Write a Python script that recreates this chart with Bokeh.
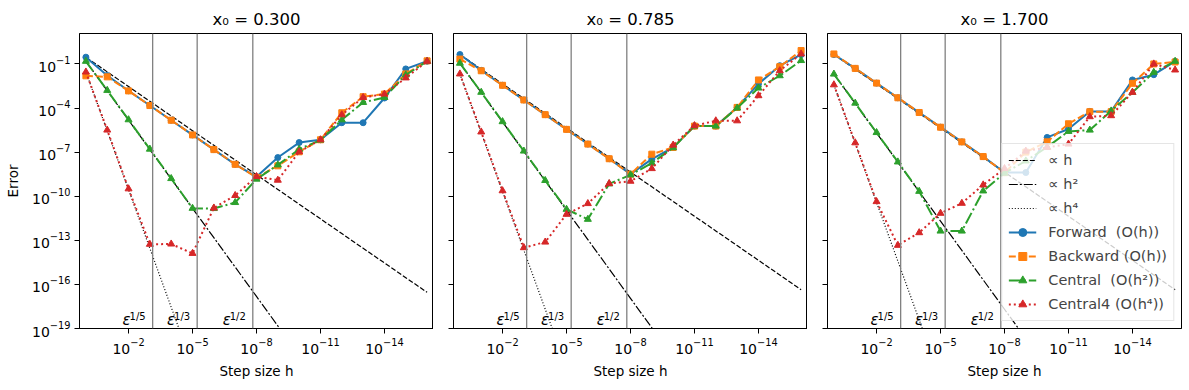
from bokeh.plotting import figure
from bokeh.layouts import row
from bokeh.models import (Range1d, FixedTicker, Legend, LegendItem, Span, LogTickFormatter,
                          CustomJSTickFormatter)
from bokeh.embed import file_html
from bokeh.resources import INLINE
from bokeh.core.properties import value

# ---------------- data ----------------
h = [1e0, 1e-1, 1e-2, 1e-3, 1e-4, 1e-5, 1e-6, 1e-7, 1e-8,
     1e-9, 1e-10, 1e-11, 1e-12, 1e-13, 1e-14, 1e-15, 1e-16]

titles = ["x\u2080 = 0.300", "x\u2080 = 0.785", "x\u2080 = 1.700"]

fwd_1 = [2.88e-1, 1.637e-2, 1.494e-3, 1.479e-4, 1.48e-5, 1.48e-6, 1.48e-7, 1.48e-8, 2.09e-9,
         4.27e-8, 4.47e-7, 6.92e-7, 1.0e-5, 1.0e-5, 4.79e-4, 4.57e-2, 1.51e-1]
bwd_1 = [1.55e-2, 1.32e-2, 1.46e-3, 1.477e-4, 1.478e-5, 1.478e-6, 1.478e-7, 1.478e-8, 1.91e-9,
         1.17e-8, 1.05e-7, 6.92e-7, 4.79e-5, 5.89e-4, 8.91e-4, 2.09e-2, 1.62e-1]
cen_1 = [1.51e-1, 1.59e-3, 1.59e-5, 1.59e-7, 1.59e-9, 1.51e-11, 1.45e-11, 3.72e-11, 1.45e-9,
         1.35e-8, 1.58e-7, 6.61e-7, 1.58e-5, 2.40e-4, 5.25e-4, 1.78e-2, 1.51e-1]
c4_1 = [2.82e-2, 3.18e-6, 3.18e-10, 5.37e-14, 5.6e-14, 1.29e-14, 1.58e-11, 1.12e-10, 2.19e-9,
        1.23e-9, 1.05e-7, 6.92e-7, 3.47e-5, 5.25e-4, 8.91e-4, 1.12e-2, 1.51e-1]

fwd_2 = [4.37e-1, 3.66e-2, 3.55e-3, 3.54e-4, 3.54e-5, 3.54e-6, 3.54e-7, 3.54e-8, 3.16e-9,
         3.31e-8, 2.09e-7, 5.89e-6, 5.89e-6, 1.10e-4, 4.37e-3, 7.59e-2, 4.27e-1]
bwd_2 = [2.14e-1, 3.42e-2, 3.52e-3, 3.53e-4, 3.53e-5, 3.53e-6, 3.53e-7, 3.53e-8, 3.16e-9,
         7.24e-8, 2.09e-7, 5.89e-6, 5.89e-6, 1.10e-4, 8.13e-3, 6.46e-2, 8.13e-1]
cen_2 = [1.12e-1, 1.18e-3, 1.18e-5, 1.18e-7, 1.18e-9, 1.29e-11, 2.69e-12, 6.92e-10, 2.82e-9,
         1.78e-8, 2.0e-7, 5.89e-6, 5.89e-6, 1.0e-4, 2.29e-3, 1.58e-2, 1.70e-1]
c4_2 = [2.09e-2, 2.36e-6, 2.36e-10, 3.16e-14, 7.59e-14, 5.89e-12, 3.16e-11, 7.24e-10, 1.05e-9,
        7.59e-9, 3.02e-7, 6.31e-6, 1.35e-5, 1.35e-5, 6.92e-4, 3.47e-2, 4.79e-1]

fwd_3 = [4.36e-1, 4.93e-2, 4.95e-3, 4.95e-4, 4.96e-5, 4.96e-6, 4.96e-7, 4.96e-8, 4.07e-9,
         4.07e-9, 1.0e-6, 3.72e-6, 5.89e-5, 5.89e-5, 8.13e-3, 1.86e-2, 1.51e-1]
bwd_3 = [4.76e-1, 4.98e-2, 4.96e-3, 4.96e-4, 4.96e-5, 4.96e-6, 4.96e-7, 4.96e-8, 3.98e-9,
         1.0e-7, 5.01e-7, 8.51e-6, 5.62e-5, 5.62e-5, 4.79e-3, 1.0e-1, 1.35e-1]
cen_3 = [2.04e-2, 2.15e-4, 2.15e-6, 2.15e-8, 2.15e-10, 4.27e-13, 4.27e-13, 2.29e-10, 3.72e-9,
         2.51e-8, 2.19e-7, 2.57e-6, 3.16e-6, 6.31e-5, 1.17e-3, 2.69e-2, 1.51e-1]
c4_3 = [3.80e-3, 4.30e-7, 4.30e-11, 4.57e-14, 3.31e-13, 6.92e-12, 3.31e-11, 5.89e-10, 7.59e-9,
        1.17e-7, 2.09e-7, 3.55e-7, 2.57e-5, 3.02e-5, 1.17e-3, 1.0e-1, 3.89e-2]

eps = 2.220446e-16
eps_roots = [5, 3, 2]
eps_labels = ["1/5", "1/3", "1/2"]

x_ticks = [1e-2, 1e-5, 1e-8, 1e-11, 1e-14]
y_ticks = [1e-1, 1e-4, 1e-7, 1e-10, 1e-13, 1e-16, 1e-19]

series_names = ["Forward  (O(h))", "Backward (O(h))", "Central  (O(h\u00b2))", "Central4 (O(h\u2074))"]
ref_names = ["\u221d h", "\u221d h\u00b2", "\u221d h\u2074"]

panels = [
    (fwd_1, bwd_1, cen_1, c4_1),
    (fwd_2, bwd_2, cen_2, c4_2),
    (fwd_3, bwd_3, cen_3, c4_3),
]

# ---------------- styling ----------------
FONT = "DejaVu Sans"
C_BLUE, C_ORANGE, C_GREEN, C_RED = "#1f77b4", "#ff7f0e", "#2ca02c", "#d62728"


def make_panel(idx, data, show_y, show_legend, border_left, border_right):
    fwd, bwd, cen, c4 = data
    p = figure(frame_width=354, frame_height=295,
               x_axis_type="log", y_axis_type="log",
               x_range=Range1d(10 ** 0.3, 10 ** -16.3),
               y_range=Range1d(1e-19, 10 ** 1.07),
               output_backend="svg", toolbar_location=None,
               min_border_left=border_left, min_border_right=border_right,
               min_border_top=33, min_border_bottom=50)
    p.title.text = titles[idx]
    p.title.align = "center"
    p.title.text_font = FONT
    p.title.text_font_size = "16.5px"
    p.title.text_font_style = "normal"
    p.title.text_color = "black"
    p.xgrid.visible = False
    p.ygrid.visible = False
    p.outline_line_color = "black"
    p.outline_line_width = 1
    p.background_fill_color = "white"
    p.border_fill_color = "white"

    p.xaxis.ticker = FixedTicker(ticks=x_ticks, minor_ticks=[])
    p.yaxis.ticker = FixedTicker(ticks=y_ticks, minor_ticks=[])
    for ax in (p.xaxis[0], p.yaxis[0]):
        ax.formatter = LogTickFormatter()
        ax.major_tick_out = 5
        ax.major_tick_in = 0
        ax.minor_tick_out = 0
        ax.minor_tick_in = 0
        ax.axis_line_color = "black"
        ax.major_tick_line_color = "black"
        ax.major_label_text_font = FONT
        ax.major_label_text_font_size = "14px"
        ax.major_label_text_color = "black"
        ax.major_label_standoff = 4
        ax.axis_label_text_font = FONT
        ax.axis_label_text_font_size = "13.5px"
        ax.axis_label_text_font_style = "normal"
        ax.axis_label_text_color = "black"
    p.xaxis.axis_label = "Step size h"
    p.xaxis.axis_label_standoff = 6
    if show_y:
        p.yaxis.axis_label = "Error"
        p.yaxis.axis_label_standoff = 8
    else:
        p.yaxis.formatter = CustomJSTickFormatter(code="return '';")
        p.yaxis.major_label_standoff = 0

    # vertical eps lines
    for r in eps_roots:
        p.add_layout(Span(location=eps ** (1.0 / r), dimension="height",
                          line_color="#808080", line_width=1.3))
    xs = [eps ** (1.0 / r) for r in eps_roots]
    p.text(x=xs, y=[10 ** -18.45] * 3, text=["\u03b5"] * 3, x_offset=-22,
           text_align="right", text_baseline="alphabetic",
           text_font=value(FONT), text_font_size="15px", text_font_style="italic",
           text_color="black")
    p.text(x=xs, y=[10 ** -18.15] * 3, text=eps_labels, x_offset=-7,
           text_align="right", text_baseline="alphabetic",
           text_font=value(FONT), text_font_size="10px", text_color="black")

    # reference slopes
    r_h = p.line(h, [fwd[0] * x / h[0] for x in h], line_color="black", line_width=1.2,
                 line_dash="5 2")
    r_h2 = p.line(h, [cen[0] * (x / h[0]) ** 2 for x in h], line_color="black", line_width=1.2,
                  line_dash="9 2 2 2")
    r_h4 = p.line(h, [c4[0] * (x / h[0]) ** 4 for x in h], line_color="black", line_width=1.2,
                  line_dash="1 2")

    # data series
    l1 = p.line(h, fwd, line_color=C_BLUE, line_width=2)
    m1 = p.scatter(h, fwd, marker="circle", size=6, fill_color=C_BLUE, line_color=C_BLUE)
    l2 = p.line(h, bwd, line_color=C_ORANGE, line_width=2, line_dash="7 3")
    m2 = p.scatter(h, bwd, marker="square", size=6, fill_color=C_ORANGE, line_color=C_ORANGE)
    l3 = p.line(h, cen, line_color=C_GREEN, line_width=2, line_dash="12 3 2 3")
    m3 = p.scatter(h, cen, marker="triangle", size=7, fill_color=C_GREEN, line_color=C_GREEN)
    l4 = p.line(h, c4, line_color=C_RED, line_width=2, line_dash="2 3")
    m4 = p.scatter(h, c4, marker="triangle", size=7, fill_color=C_RED, line_color=C_RED)

    if show_legend:
        items = [
            LegendItem(label=ref_names[0], renderers=[r_h]),
            LegendItem(label=ref_names[1], renderers=[r_h2]),
            LegendItem(label=ref_names[2], renderers=[r_h4]),
            LegendItem(label=series_names[0], renderers=[l1, m1]),
            LegendItem(label=series_names[1], renderers=[l2, m2]),
            LegendItem(label=series_names[2], renderers=[l3, m3]),
            LegendItem(label=series_names[3], renderers=[l4, m4]),
        ]
        leg = Legend(items=items, location="bottom_right", margin=7,
                     label_text_font=FONT, label_text_font_size="14.5px",
                     glyph_width=28, glyph_height=20, label_height=20,
                     spacing=4, padding=6, label_standoff=12,
                     border_line_color="#cccccc", border_line_width=1,
                     background_fill_color="white", background_fill_alpha=0.8)
        p.add_layout(leg)
    return p


p1 = make_panel(0, panels[0], True, False, 79, 0)
p2 = make_panel(1, panels[1], False, False, 20, 0)
p3 = make_panel(2, panels[2], False, True, 20, 6)

layout = row(p1, p2, p3)
open("out.html", "w").write(file_html(layout, INLINE))
